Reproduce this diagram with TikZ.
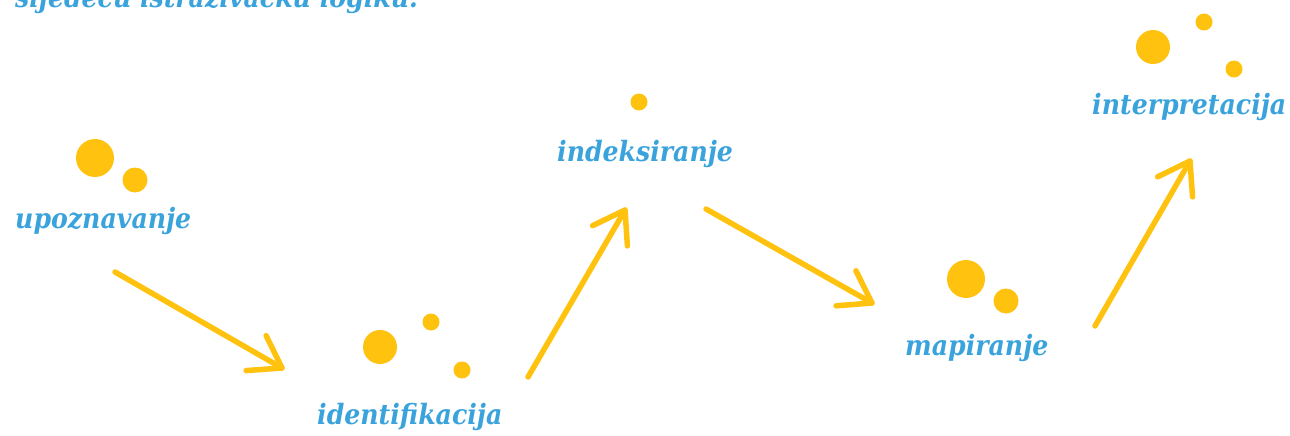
\documentclass[tikz,border=0pt]{standalone}
\usepackage{fontspec}
\newfontfamily\lab{DejaVu Serif Condensed}
\usetikzlibrary{calc}
\definecolor{dotyellow}{HTML}{FFC20E}
\definecolor{labblue}{HTML}{3AA3DC}
\begin{document}
\begin{tikzpicture}[x=1pt,y=-1pt,
  lbl/.style={font=\lab\bfseries\itshape\fontsize{28}{31}\selectfont, text=labblue, inner sep=0pt, anchor=base west},
  dot/.style={fill=dotyellow},
  flow/.style={draw=dotyellow, line width=5.5pt, line cap=round, line join=round}]
\useasboundingbox (0,0) rectangle (1290,436);
% cut-off heading
\node[lbl] (head) at (15,8) {sljedeću istraživačku logiku.};
% labels
\node[lbl] (upo) at (15,228) {upoznavanje};
\node[lbl] (ide) at (317,424) {identifikacija};
\node[lbl] (ind) at (557,161) {indeksiranje};
\node[lbl] (map) at (905,355) {mapiranje};
\node[lbl] (int) at (1092,114) {interpretacija};
% dots
\fill[dot] (95,158) circle (19);
\fill[dot] (135,180) circle (12.5);
\fill[dot] (380,347) circle (17);
\fill[dot] (431,322) circle (8.5);
\fill[dot] (462,370) circle (8.5);
\fill[dot] (639,102) circle (8.5);
\fill[dot] (966,279) circle (19);
\fill[dot] (1006,301) circle (12.5);
\fill[dot] (1153,47) circle (17);
\fill[dot] (1204,22) circle (8.5);
\fill[dot] (1234,69) circle (8.5);
% arrows
\coordinate (a1s) at (115,272); \coordinate (a1e) at (282,368);
\coordinate (a2s) at (528,377); \coordinate (a2e) at (625,210);
\coordinate (a3s) at (706,209); \coordinate (a3e) at (872,303);
\coordinate (a4s) at (1095,326); \coordinate (a4e) at (1190,161);
\foreach \s/\e in {a1s/a1e,a2s/a2e,a3s/a3e,a4s/a4e}{
  \draw[flow] (\s) -- (\e);
  \draw[flow] ($(\e)!36pt!34:(\s)$) -- (\e) -- ($(\e)!36pt!-34:(\s)$);
}
\end{tikzpicture}
\end{document}
